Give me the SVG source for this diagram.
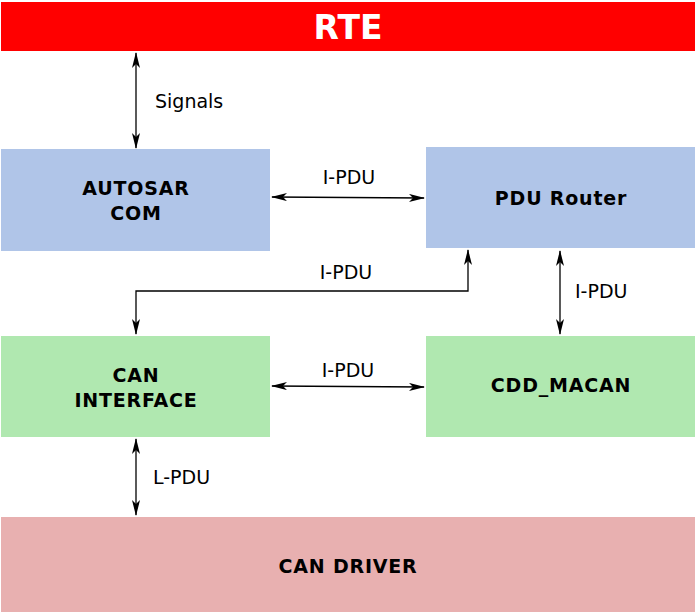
<svg xmlns="http://www.w3.org/2000/svg" width="697" height="614" viewBox="0 0 697 614">
<style>
.lbl{font-family:"DejaVu Sans",Verdana,sans-serif;font-size:19px;fill:#000}
.node{font-family:"DejaVu Sans",Verdana,sans-serif;font-size:19px;font-weight:bold;fill:#000;text-anchor:middle;letter-spacing:0.8px}
.blue{fill:#b0c5e8}
.green{fill:#b0e8b0}
.conn{stroke:#000;stroke-width:1.3;fill:none;marker-start:url(#ah);marker-end:url(#ah)}
</style>
<defs>
<marker id="ah" viewBox="0 0 16 8" refX="15" refY="4" markerWidth="16" markerHeight="8" markerUnits="userSpaceOnUse" orient="auto-start-reverse">
<path d="M0,0 L16,4 L0,8 L4,4 Z" fill="#000"/>
</marker>
</defs>
<rect width="697" height="614" fill="#fff"/>
<g id="rte">
<rect x="1" y="2" width="694" height="49" fill="#ff0000"/>
<text x="348" y="39" font-family="DejaVu Sans,Verdana,sans-serif" font-size="33" font-weight="bold" fill="#fff" text-anchor="middle">RTE</text>
</g>
<g id="autosar-com">
<rect class="blue" x="1" y="149" width="269" height="102"/>
<text class="node" x="136" y="195">AUTOSAR</text>
<text class="node" x="136" y="220">COM</text>
</g>
<g id="pdu-router">
<rect class="blue" x="426" y="147" width="269" height="101"/>
<text class="node" x="561" y="205">PDU Router</text>
</g>
<g id="can-interface">
<rect class="green" x="1" y="336" width="269" height="101"/>
<text class="node" x="136" y="382">CAN</text>
<text class="node" x="136" y="407">INTERFACE</text>
</g>
<g id="cdd-macan">
<rect class="green" x="426" y="336" width="269" height="101"/>
<text class="node" x="561" y="392">CDD_MACAN</text>
</g>
<g id="can-driver">
<rect x="1" y="517" width="694" height="95" fill="#e8b0b0"/>
<text class="node" x="348" y="573">CAN DRIVER</text>
</g>
<g id="connectors">
<path class="conn" d="M136,53 L136,148"/>
<text class="lbl" x="155" y="108">Signals</text>
<path class="conn" d="M272,197 L424,198"/>
<text class="lbl" x="349" y="184" text-anchor="middle">I-PDU</text>
<path class="conn" d="M136,334 L136,291 L468,291 L468,250"/>
<text class="lbl" x="346" y="279" text-anchor="middle">I-PDU</text>
<path class="conn" d="M560,251 L560,334"/>
<text class="lbl" x="575" y="298">I-PDU</text>
<path class="conn" d="M272,386 L424,387"/>
<text class="lbl" x="348" y="377" text-anchor="middle">I-PDU</text>
<path class="conn" d="M136,439 L136,515"/>
<text class="lbl" x="153" y="484">L-PDU</text>
</g>
</svg>
